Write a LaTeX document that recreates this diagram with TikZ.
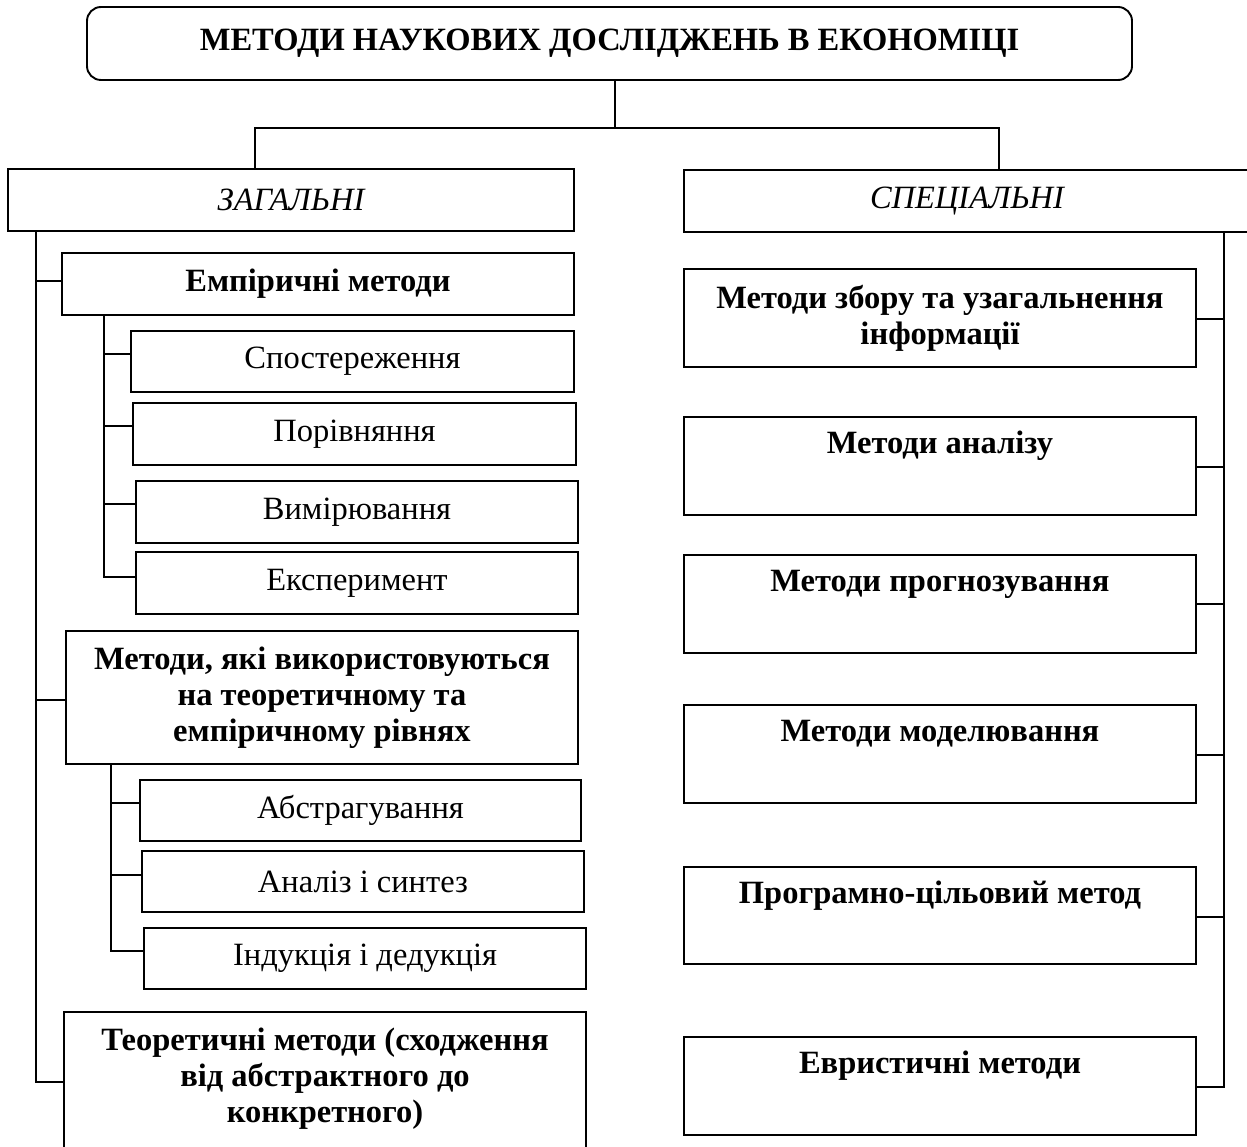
\documentclass[tikz,border=0pt]{standalone}
\usepackage{fontspec}
\setmainfont{Liberation Serif}
\usetikzlibrary{calc}
\newcommand{\boxfont}{\fontsize{32.5}{36}\selectfont}
\begin{document}
\begin{tikzpicture}[x=1pt,y=-1pt,line width=1.9pt,
  box/.style={draw,rectangle,inner sep=0pt,outer sep=0pt,anchor=north west,
    align=center,font=\boxfont},
  bold/.style={box,font=\boxfont\bfseries},
  sz/.style 2 args={minimum width=#1,minimum height=#2}]
\clip (0,0) rectangle (1247,1147);
\fill[white] (0,0) rectangle (1247,1147);

% root
\node[bold,sz={1045}{73},rounded corners=14pt] (title) at (87,7)
  {МЕТОДИ НАУКОВИХ ДОСЛІДЖЕНЬ В ЕКОНОМІЦІ};

% two main groups
\node[box,sz={566}{62},font=\boxfont\itshape] (zag) at (8,169) {ЗАГАЛЬНІ};
\node[box,sz={566}{62},font=\boxfont\itshape] (spec) at (684,170) {СПЕЦІАЛЬНІ};

% general methods
\node[bold,sz={512}{62}] (emp) at (62,253) {Емпіричні методи};
\node[box,sz={443}{61}] (spost) at (131,331) {Спостереження};
\node[box,sz={443}{62}] (por) at (133,403) {Порівняння};
\node[box,sz={442}{62}] (vym) at (136,481) {Вимірювання};
\node[box,sz={442}{62}] (eksp) at (136,552) {Експеримент};
\node[bold,sz={512}{133}] (myak) at (66,631)
  {Методи, які використовуються\\на теоретичному та\\емпіричному рівнях};
\node[box,sz={441}{61}] (abs) at (140,780) {Абстрагування};
\node[box,sz={442}{61}] (anal) at (142,851) {Аналіз і синтез};
\node[box,sz={442}{61}] (ind) at (144,928) {Індукція і дедукція};
\node[box,sz={522}{160}] (teor) at (64,1012) {};
\node[align=center,font=\boxfont\bfseries] (teortxt)
  at ($(teor.north)+(0,67)$)
  {Теоретичні методи (сходження\\від абстрактного до\\конкретного)};

% special methods
\node[bold,sz={512}{98}] (zbir) at (684,269) {Методи збору та узагальнення\\інформації};
\node[bold,sz={512}{98}] (analiz) at (684,417) {Методи аналізу\\\strut};
\node[bold,sz={512}{98}] (prog) at (684,555) {Методи прогнозування\\\strut};
\node[bold,sz={512}{98}] (model) at (684,705) {Методи моделювання\\\strut};
\node[bold,sz={512}{97}] (prcil) at (684,867) {Програмно-цільовий метод\\\strut};
\node[bold,sz={512}{98}] (evr) at (684,1037) {Евристичні методи\\\strut};

% root to groups
\coordinate (jT) at (615,128);
\coordinate (jZ) at (255,128);
\coordinate (jS) at (999,128);
\draw (title.south -| jT) -- (jT);
\draw (zag.north -| jZ) -- (jZ) -- (jS) -- (spec.north -| jS);

% left trunk
\coordinate (jL) at (36,1082);
\coordinate (jL1) at (36,281);
\coordinate (jL2) at (36,700);
\draw (zag.south -| jL) -- (jL) -- (jL -| teor.west);
\draw (jL1) -- (jL1 -| emp.west);
\draw (jL2) -- (jL2 -| myak.west);

% empirical branch
\coordinate (jA) at (104,577);
\coordinate (jA1) at (104,354);
\coordinate (jA2) at (104,426);
\coordinate (jA3) at (104,504);
\draw (emp.south -| jA) -- (jA) -- (jA -| eksp.west);
\draw (jA1) -- (jA1 -| spost.west);
\draw (jA2) -- (jA2 -| por.west);
\draw (jA3) -- (jA3 -| vym.west);

% theoretical-empirical branch
\coordinate (jB) at (111,951);
\coordinate (jB1) at (111,803);
\coordinate (jB2) at (111,875);
\draw (myak.south -| jB) -- (jB) -- (jB -| ind.west);
\draw (jB1) -- (jB1 -| abs.west);
\draw (jB2) -- (jB2 -| anal.west);

% right trunk
\coordinate (jR) at (1224,1087);
\coordinate (jR1) at (1224,319);
\coordinate (jR2) at (1224,467);
\coordinate (jR3) at (1224,604);
\coordinate (jR4) at (1224,755);
\coordinate (jR5) at (1224,917);
\draw (spec.south -| jR) -- (jR) -- (jR -| evr.east);
\draw (jR1) -- (jR1 -| zbir.east);
\draw (jR2) -- (jR2 -| analiz.east);
\draw (jR3) -- (jR3 -| prog.east);
\draw (jR4) -- (jR4 -| model.east);
\draw (jR5) -- (jR5 -| prcil.east);
\end{tikzpicture}
\end{document}
